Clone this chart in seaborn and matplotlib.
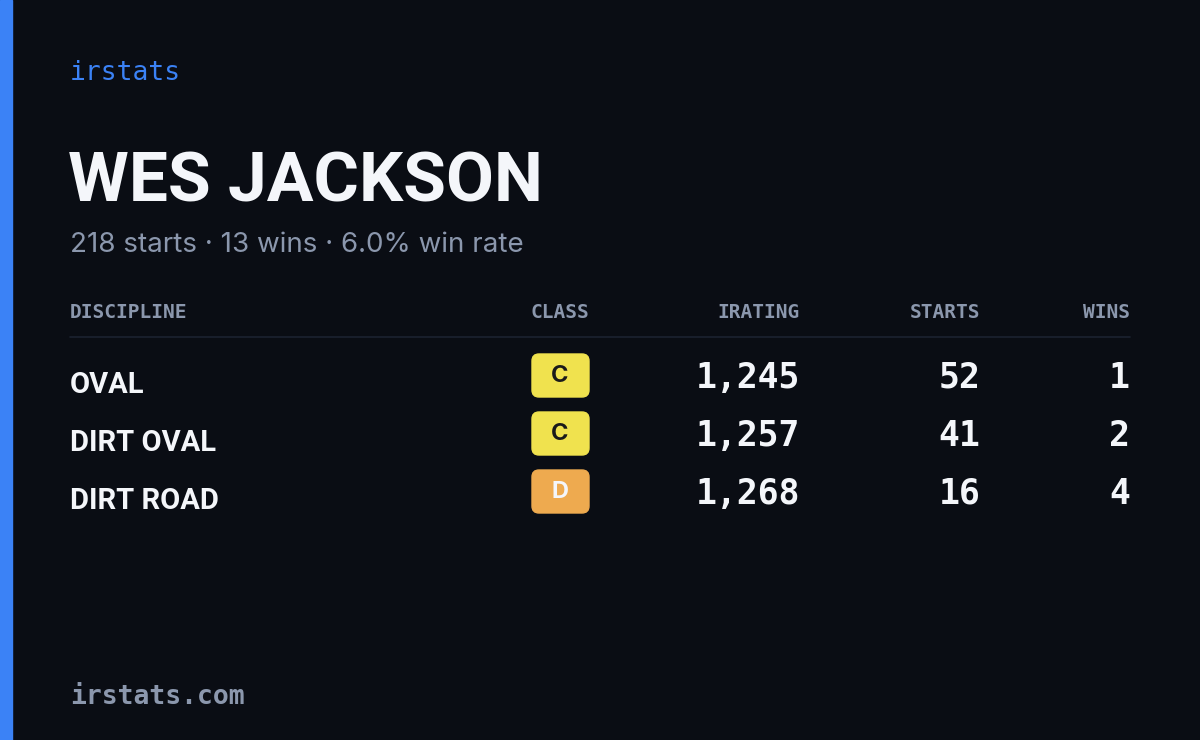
import matplotlib
matplotlib.use("Agg")
import matplotlib.pyplot as plt
import seaborn as sns
from matplotlib.patches import FancyBboxPatch, Rectangle

# --- data ---
player = "WES JACKSON"
summary = "218 starts · 13 wins · 6.0% win rate"
columns = ["DISCIPLINE", "CLASS", "IRATING", "STARTS", "WINS"]
disciplines = ["OVAL", "DIRT OVAL", "DIRT ROAD"]
classes = ["C", "C", "D"]
iratings = [1245, 1257, 1268]
starts = [52, 41, 16]
wins = [1, 2, 4]

BG = "#0a0d14"
BLUE = "#3b82f6"
MUTED = "#8b97ad"
WHITE = "#f4f6fa"
CLASS_COLORS = {"C": "#f0e24e", "D": "#eeaa4f"}

sns.set_theme(style="dark")
W, H = 1200, 740
fig = plt.figure(figsize=(12, 7.4), dpi=100, facecolor=BG)
ax = fig.add_axes([0, 0, 1, 1])
ax.set_xlim(0, W)
ax.set_ylim(H, 0)
ax.axis("off")
ax.set_facecolor(BG)

narrow = ["Liberation Sans Narrow", "Roboto", "DejaVu Sans"]
mono = ["DejaVu Sans Mono"]
sans = ["Inter", "DejaVu Sans"]

ax.add_patch(Rectangle((0, 0), 12, H, color=BLUE))
ax.text(70, 73, "irstats", color=BLUE, fontsize=19, family=mono, va="center")
ax.text(68, 183, player, color=WHITE, fontsize=50, family=narrow,
        fontweight="bold", va="center")
ax.text(70, 245, summary, color=MUTED, fontsize=20, family=sans, va="center")

# header
col_x = [70, 560, 800, 980, 1130]
col_ha = ["left", "center", "right", "right", "right"]
for name, x, ha in zip(columns, col_x, col_ha):
    ax.text(x, 313, name, color=MUTED, fontsize=14, family=mono, ha=ha,
            va="center", fontweight="bold")
ax.plot([70, 1130], [337, 337], color="#1c2230", lw=1.2)

row_y = [380, 438, 496]
for y, d, c, ir, s, w in zip(row_y, disciplines, classes, iratings, starts, wins):
    ax.text(70, y + 5, d, color=WHITE, fontsize=21, family=narrow,
            fontweight="bold", va="center")
    ax.add_patch(FancyBboxPatch((532, y - 26), 57, 43,
                                boxstyle="round,pad=0,rounding_size=7",
                                color=CLASS_COLORS[c]))
    ax.text(560, y - 4, c, color="#1a1a1a" if c == "C" else WHITE, fontsize=17,
            family=sans, fontweight="bold", ha="center", va="center")
    for x, v in [(800, f"{ir:,}"), (980, str(s)), (1130, str(w))]:
        ax.text(x, y - 2, v, color=WHITE, fontsize=25, family=mono,
                ha="right", va="center", fontweight="bold")

ax.text(70, 697, "irstats.com", color=MUTED, fontsize=19, family=mono,
        va="center", fontweight="bold")

fig.savefig("out.png", dpi=100, facecolor=BG)
